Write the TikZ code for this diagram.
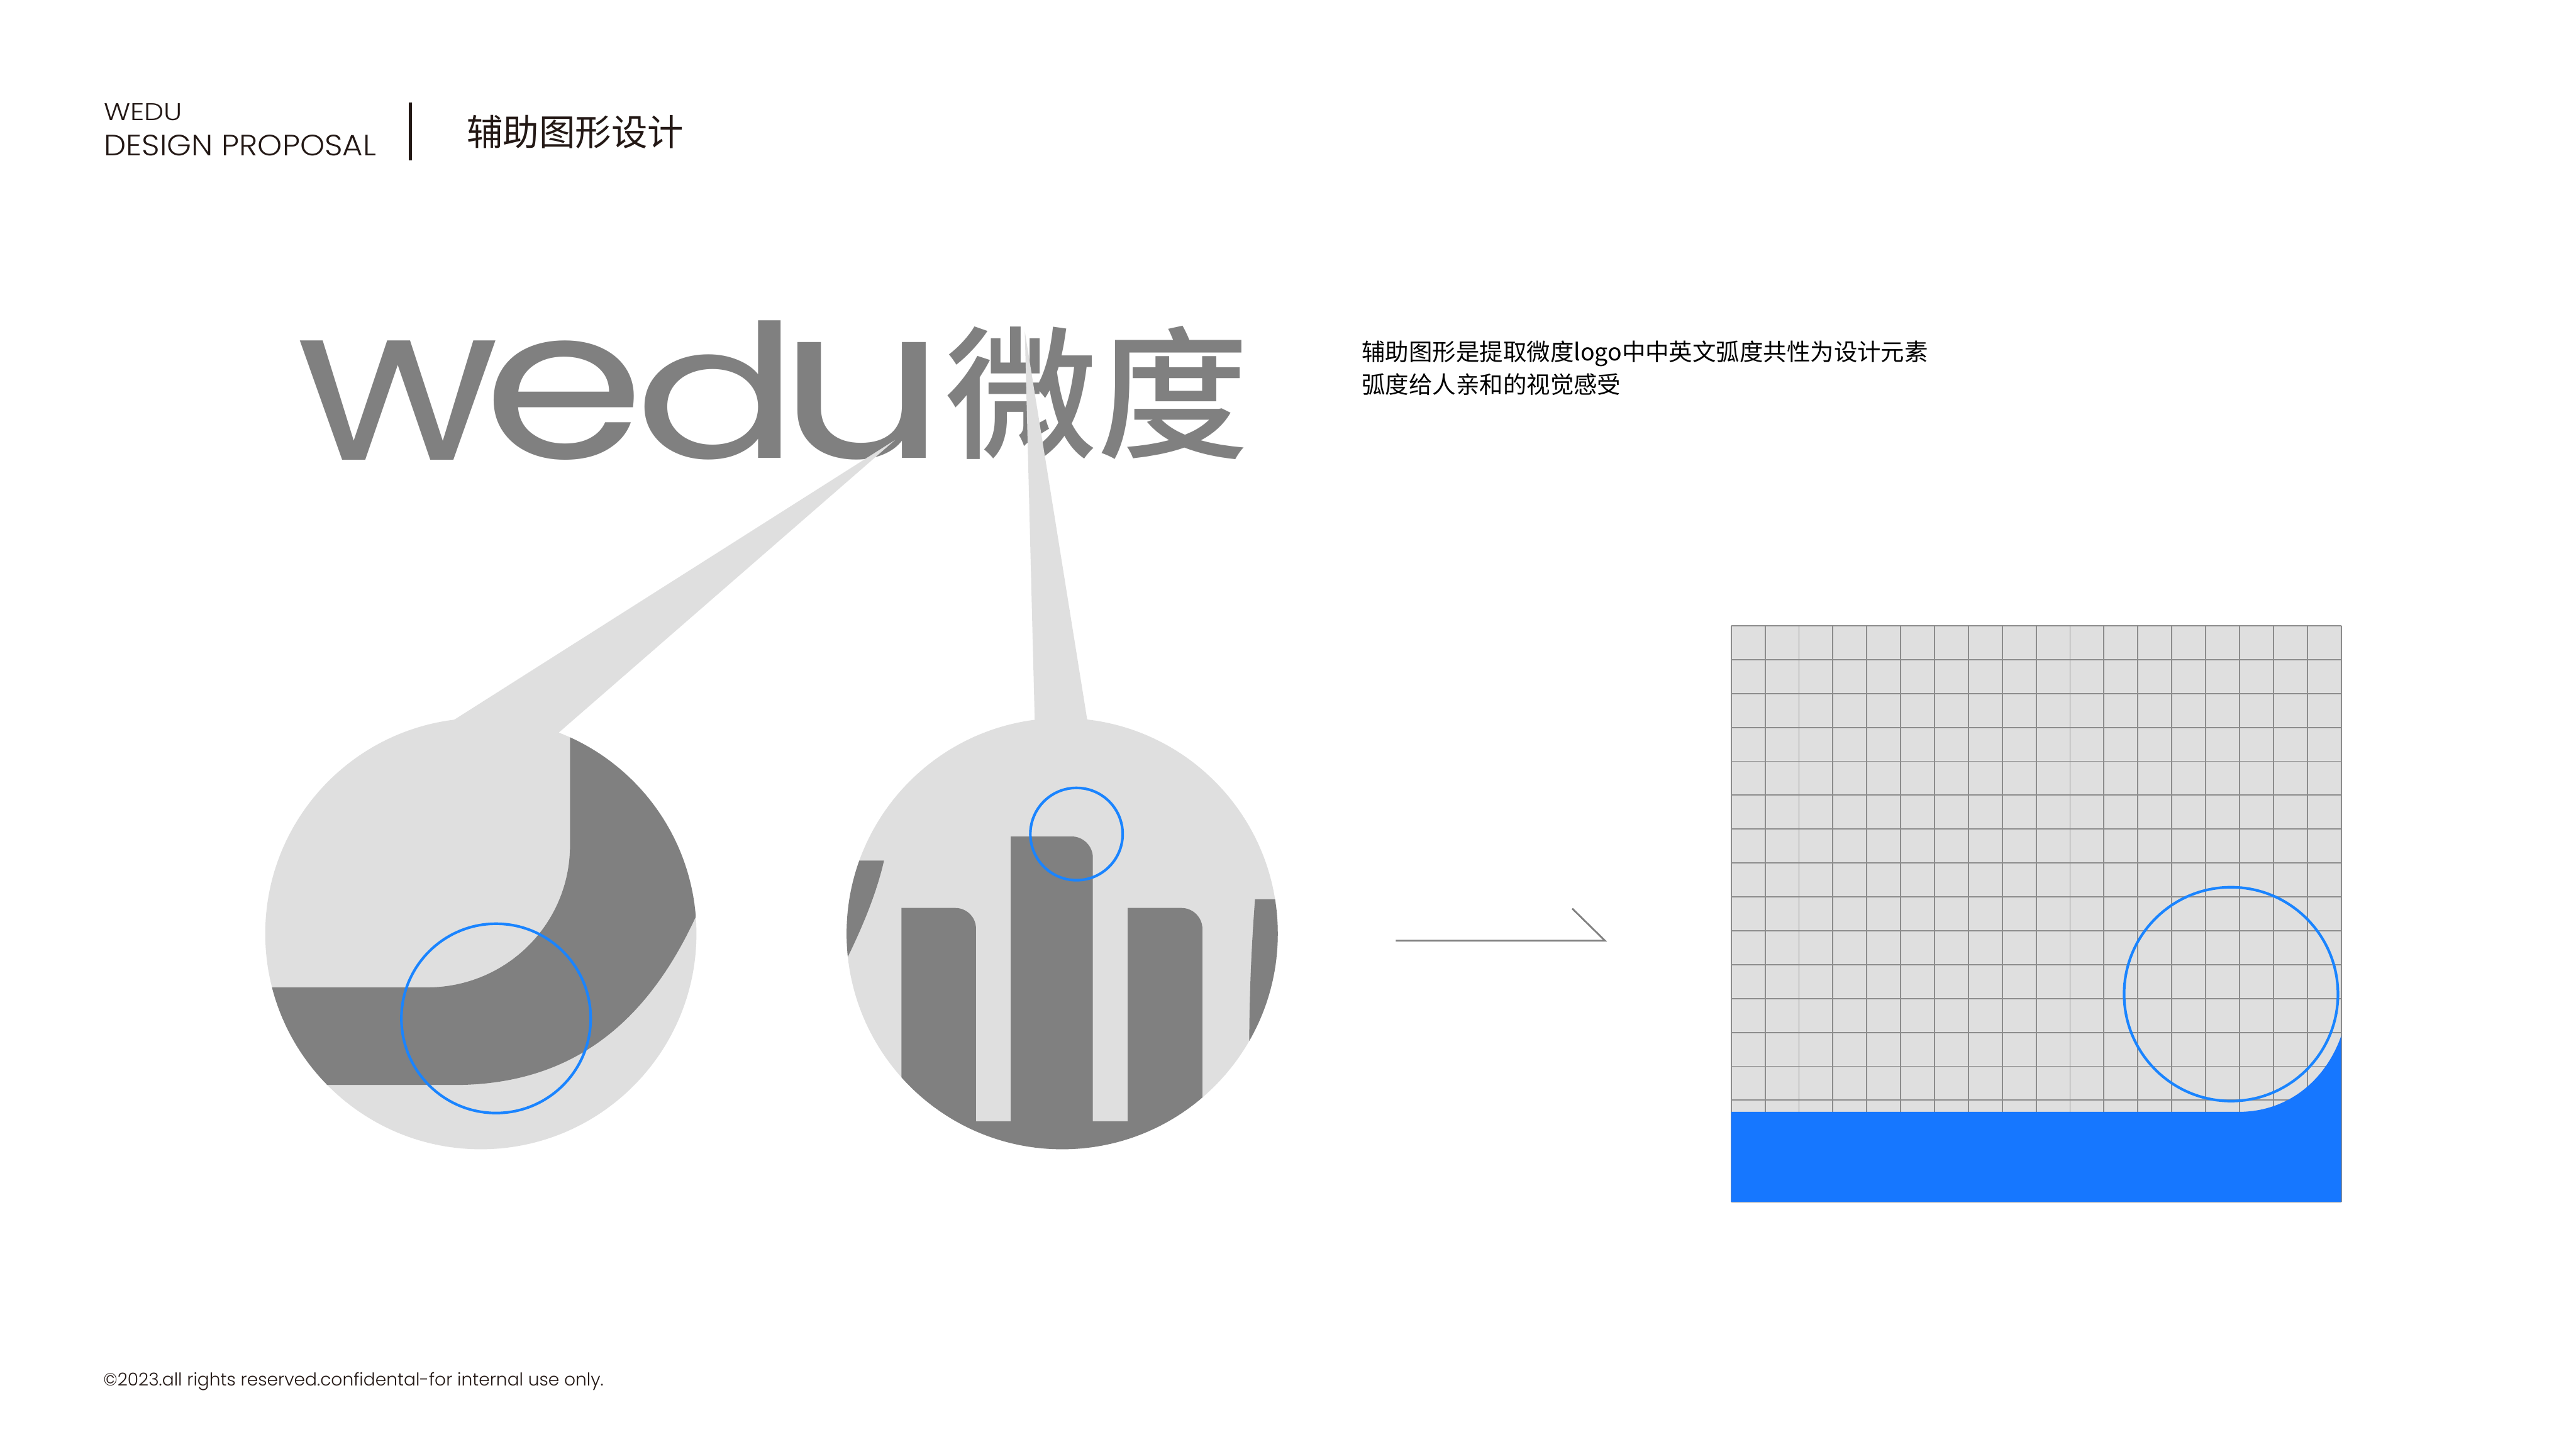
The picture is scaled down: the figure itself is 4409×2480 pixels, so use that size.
\documentclass[tikz,border=0pt]{standalone}
\usepackage{fontspec}
\usepackage{graphicx}
\setmainfont{Poppins}
\newfontfamily\latin{Poppins Light}
\newfontfamily\logofont{Poppins}
\newfontfamily\cjk{Noto Sans CJK SC}
\newfontfamily\cjkb{Noto Sans CJK SC Medium}
\definecolor{dark}{HTML}{808080}
\definecolor{pale}{HTML}{DFDFDF}
\definecolor{blueA}{HTML}{1677FF}
\definecolor{blueB}{HTML}{1A84FF}
\definecolor{ink}{HTML}{231815}
\definecolor{gridc}{HTML}{8C8C8C}
\tikzset{
  ring/.style={draw=blueB,line width=4.5*0.01cm},
  logoglyph/.style={inner sep=0,outer sep=0,text=dark,anchor=north west},
  label/.style={inner sep=0,outer sep=0,anchor=west,text=ink},
}
\newcommand{\fs}[1]{\fontsize{#1}{#1}\selectfont}
\begin{document}
\begin{tikzpicture}[x=0.01cm,y=-0.01cm]
\useasboundingbox (0,0) rectangle (4409,2480);
\fill[white] (0,0) rectangle (4409,2480);
% header
\node[label] (h1) at (178,192) {\scalebox{1.146}[1]{\latin\fs{11.8}WEDU}};
\node[label] (h2) at (178,249) {\scalebox{1.067}[1]{\latin\fs{14.3}DESIGN PROPOSAL}};
\draw[ink,line width=0.055cm] (702,175) -- (702,275);
\node[label] (title) at (799,226) {\cjk\fs{17.6}辅助图形设计};
% logo
\node[logoglyph] (lw) at (509,583) {\resizebox*{3.45cm}{2.04cm}{\logofont w}};
\node[logoglyph] (le) at (826,583) {\resizebox*{2.78cm}{2.04cm}{\logofont e}};
\node[logoglyph] (ld) at (1086,549) {\resizebox*{2.83cm}{2.38cm}{\logofont d}};
\node[logoglyph] (lu) at (1333,586) {\resizebox*{2.86cm}{2.01cm}{\logofont u}};
\node[logoglyph] (lc) at (1618,558) {\resizebox*{5.2cm}{2.29cm}{\cjkb 微度}};
% callouts
\fill[pale] (1532,753) -- (775.6,1233) -- (955,1255) -- cycle;
\fill[pale] (1754,567) -- (1771,1233) -- (1861,1233) -- cycle;
% circle 1
\fill[pale] (823,1598) circle (369);
\begin{scope}
\clip (823,1598) circle (369);
\fill[dark] (975.6,1200) -- (975.6,1447) .. controls (975.6,1582) and (866,1690) .. (731,1690)
  -- (440,1690) -- (440,1857) -- (777,1857)
  .. controls (980,1857) and (1110,1750) .. (1195,1560) -- (1250,1560) -- (1250,1200) -- cycle;
\end{scope}
\draw[ring] (849,1743) circle (162);
% circle 2
\fill[pale] (1818,1598) circle (369);
\begin{scope}
\clip (1818,1598) circle (369);
\fill[dark] (1543,2000) -- (1543,1554) -- (1635,1554) arc[start angle=-90,end angle=0,radius=35.5]
  -- (1670.5,1919) -- (1730,1919) -- (1730,1431.6) -- (1834,1431.6) arc[start angle=-90,end angle=0,radius=36.5]
  -- (1870.5,1919) -- (1930,1919) -- (1930,1554) -- (2022,1554) arc[start angle=-90,end angle=0,radius=36]
  -- (2058,2000) -- cycle;
\fill[dark] (1430,1473) -- (1513,1473) .. controls (1500,1530) and (1475,1590) .. (1445,1650) -- (1430,1650) -- cycle;
\fill[dark] (2148,1539) -- (2210,1539) -- (2210,1810) -- (2138,1810) .. controls (2138,1700) and (2142,1620) .. (2148,1539) -- cycle;
\end{scope}
\draw[ring] (1842.5,1427.5) circle (79);
% arrow
\coordinate (a0) at (2389,1610);
\coordinate (a1) at (2747,1610);
\coordinate (a2) at (2691,1555);
\draw[dark,line width=0.03cm] (a0) -- (a1) -- (a2);
% grid square
\fill[pale] (2963,1071) rectangle (4007,2057);
\foreach \k in {0,...,18} {\draw[gridc,line width=0.02cm] ({2963+58*\k},1071) -- ({2963+58*\k},2057);}
\foreach \k in {0,...,17} {\draw[gridc,line width=0.02cm] (2963,{1071+58*\k}) -- (4007,{1071+58*\k});}
\fill[blueA] (2963,1903) -- (3831.5,1903) .. controls (3915,1903) and (3980,1850) .. (4007,1773) -- (4007,2057) -- (2963,2057) -- cycle;
\draw[ring] (3818.5,1701.5) circle (183);
% description
\node[label,text=black] (d1) at (2331,605) {\cjk\fs{11.46}辅助图形是提取微度logo中中英文弧度共性为设计元素};
\node[label,text=black] (d2) at (2331,658) {\cjk\fs{11.46}弧度给人亲和的视觉感受};
% footer
\node[label] (foot) at (177,2364) {\latin\fs{8.6}©2023.all rights reserved.confidental-for internal use only.};
\end{tikzpicture}
\end{document}
